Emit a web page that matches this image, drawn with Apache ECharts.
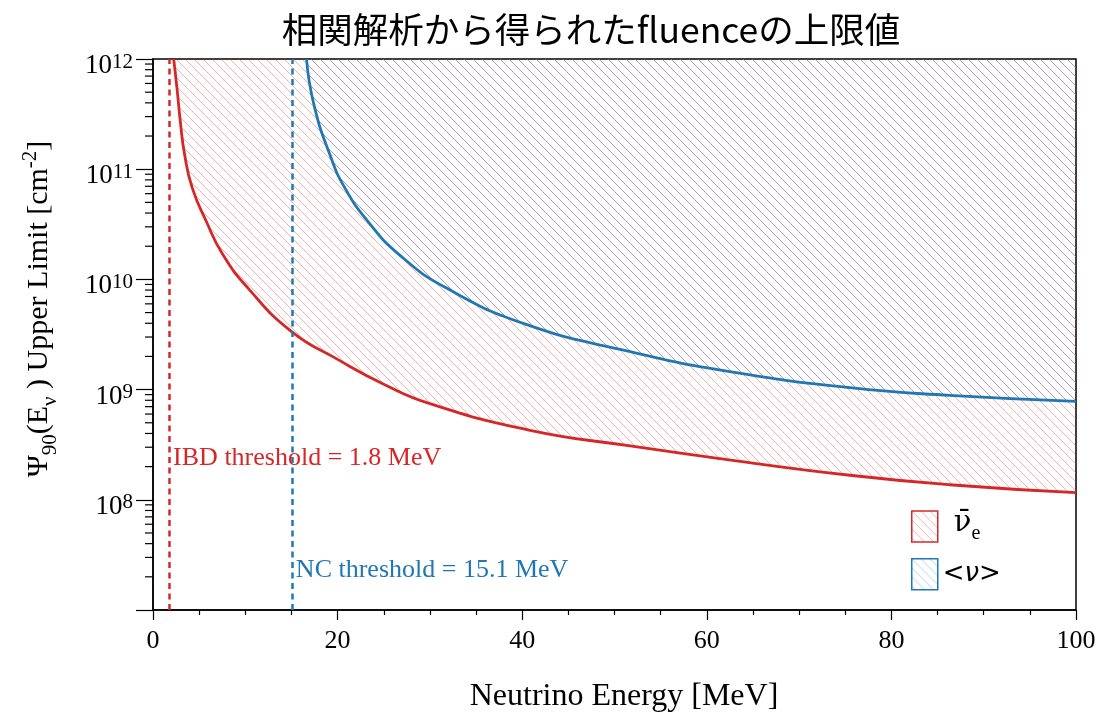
<!DOCTYPE html>
<html>
<head>
<meta charset="utf-8">
<script src="https://cdn.jsdelivr.net/npm/echarts@6/dist/echarts.min.js"></script>
<style>
  html, body { margin: 0; padding: 0; background: #ffffff; }
  #chart { width: 1099px; height: 712px; }
</style>
</head>
<body>
<div id="chart"></div>
<script>
// IBD (anti-electron neutrino) fluence upper limit vs neutrino energy [MeV]
const energyIBD = [2.24, 2.60, 2.96, 3.43, 4.26, 5.78, 7.58, 10.29, 14.98, 20.0, 25.0, 30.0, 40.85, 51.7, 62.0, 75.5, 86.3, 100];
const fluenceIBD = [1.0e12, 5.42e11, 2.70e11, 1.35e11, 6.73e10, 3.35e10, 1.67e10, 8.34e9, 3.37e9, 1.88e9, 1.12e9, 7.46e8, 4.27e8, 3.08e8, 2.33e8, 1.67e8, 1.37e8, 1.16e8];

// Neutral-current (all flavour average) fluence upper limit
const energyNC = [16.63, 17.44, 19.17, 20.8, 23.3, 26.7, 31.8, 40.5, 51.7, 62.0, 75.5, 86.3, 100];
const fluenceNC = [1.0e12, 3.83e11, 1.35e11, 6.73e10, 3.35e10, 1.67e10, 8.34e9, 3.89e9, 2.21e9, 1.48e9, 1.04e9, 8.87e8, 7.83e8];

// Reaction thresholds [MeV]
const thresholdIBD = 1.8;
const thresholdNC = 15.1;

// Axis ticks
const xTicks = [0, 20, 40, 60, 80, 100];
const yDecades = [7, 8, 9, 10, 11, 12];

const seriesNames = ['\u03bd\u0304e', '<\u03bd>'];
const titleText = '相関解析から得られたfluenceの上限値';

const RED = '#d62728';
const BLUE = '#1f77b4';
const SERIF = 'Liberation Serif';

// minor ticks at 2..9 within every decade of the log axis
const minorTickValues = [];
yDecades.slice(0, -1).forEach(function (d) {
  for (let k = 2; k <= 9; k++) minorTickValues.push(k * Math.pow(10, d));
});

function zip(xs, ys) { return xs.map(function (x, i) { return [x, ys[i]]; }); }

// diagonal hatch pattern ("\\" direction)
function hatch(color) {
  const s = 9;
  const c = document.createElement('canvas');
  c.width = s; c.height = s;
  const g = c.getContext('2d');
  g.strokeStyle = color;
  g.lineWidth = 1;
  g.beginPath();
  for (let k = -1; k <= 1; k++) { g.moveTo(k * s, 0); g.lineTo(k * s + s, s); }
  g.stroke();
  return { image: c, repeat: 'repeat' };
}
const hatchRed = hatch('rgba(230,70,70,0.42)');
const hatchBlue = hatch('rgba(125,132,168,0.5)');
const hatchLegendBlue = hatch('rgba(90,150,205,0.45)');

const chart = echarts.init(document.getElementById('chart'), null, { renderer: 'canvas' });

const tickRich = {
  b: { fontFamily: SERIF, fontSize: 27, color: '#000', verticalAlign: 'bottom' },
  s: { fontFamily: SERIF, fontSize: 21, color: '#000', verticalAlign: 'bottom', padding: [0, 0, 7, 0] }
};

const option = {
  backgroundColor: '#ffffff',
  animation: false,
  grid: {
    left: 153, right: 23, top: 59, bottom: 102,
    outerBoundsMode: 'none',
    containLabel: false,
    show: true, borderColor: '#000', borderWidth: 1.5, backgroundColor: 'transparent'
  },
  legend: {
    orient: 'vertical',
    left: 911, top: 509,
    padding: 0,
    itemWidth: 26, itemHeight: 31, itemGap: 14,
    selectedMode: false,
    data: [
      { name: seriesNames[0], icon: 'rect', itemStyle: { color: hatchRed, borderColor: RED, borderWidth: 1.5 } },
      { name: seriesNames[1], icon: 'rect', itemStyle: { color: hatchLegendBlue, borderColor: BLUE, borderWidth: 1.5 } }
    ],
    formatter: function (name) {
      return name === seriesNames[0] ? '{nu|\u03bd\u0304}{sub|e}' : '{br|<}{nui|\u03bd}{br|>}';
    },
    textStyle: {
      color: '#000',
      rich: {
        nu: { fontFamily: 'DejaVu Serif', fontSize: 29, color: '#000', verticalAlign: 'bottom', padding: [0, 0, 6, 11] },
        sub: { fontFamily: SERIF, fontSize: 20, color: '#000', verticalAlign: 'bottom' },
        br: { fontFamily: 'DejaVu Sans', fontSize: 26, color: '#000', verticalAlign: 'bottom' },
        nui: { fontFamily: 'DejaVu Sans', fontStyle: 'italic', fontSize: 26, color: '#000', verticalAlign: 'bottom' }
      }
    }
  },
  xAxis: {
    type: 'value',
    min: xTicks[0], max: xTicks[xTicks.length - 1], interval: xTicks[1] - xTicks[0],
    axisLine: { show: true, lineStyle: { color: '#000', width: 1.5 } },
    axisTick: { show: true, inside: false, length: 10, lineStyle: { color: '#000', width: 1.2 } },
    minorTick: { show: true, splitNumber: 4, length: 5, lineStyle: { color: '#000', width: 1.2 } },
    axisLabel: { color: '#000', fontFamily: SERIF, fontSize: 26, margin: 18 },
    splitLine: { show: false },
    name: 'Neutrino Energy [MeV]',
    nameLocation: 'middle',
    nameGap: 71,
    nameTextStyle: { color: '#000', fontFamily: SERIF, fontSize: 32, padding: [0, 0, 0, 19] }
  },
  yAxis: {
    type: 'log', logBase: 10,
    min: Math.pow(10, yDecades[0]), max: Math.pow(10, yDecades[yDecades.length - 1]),
    axisLine: { show: true, lineStyle: { color: '#000', width: 1.5 } },
    axisTick: { show: true, inside: false, length: 17, lineStyle: { color: '#000', width: 1.2 } },
    axisLabel: {
      margin: 20,
      padding: [13, 0, 0, 0],
      formatter: function (v) {
        const e = Math.round(Math.log10(v));
        if (e === yDecades[0]) return '';
        return '{b|10}{s|' + e + '}';
      },
      rich: tickRich
    },
    splitLine: { show: false }
  },
  graphic: [
    {
      type: 'text',
      x: 591, y: 30,
      style: {
        text: titleText,
        align: 'center', verticalAlign: 'middle',
        fontFamily: 'Noto Sans CJK JP', fontSize: 35.5, fill: '#000'
      }
    },
    {
      type: 'text',
      x: 40, y: 309,
      rotation: Math.PI / 2,
      style: {
        text: '{t|\u03a8}{s|90}{t|(E}{s|\u03bd}{t| ) Upper Limit [cm}{p|-2}{t|]}',
        align: 'center', verticalAlign: 'middle',
        rich: {
          t: { fontFamily: SERIF, fontSize: 30, fill: '#000', verticalAlign: 'bottom', padding: [0, 0, 6, 0] },
          s: { fontFamily: SERIF, fontSize: 21, fill: '#000', verticalAlign: 'bottom' },
          p: { fontFamily: SERIF, fontSize: 21, fill: '#000', verticalAlign: 'bottom', padding: [0, 0, 20, 0] }
        }
      }
    }
  ],
  series: [
    {
      name: seriesNames[0],
      type: 'line',
      data: zip(energyIBD, fluenceIBD),
      smooth: 0.5,
      showSymbol: false,
      lineStyle: { color: RED, width: 2.8 },
      itemStyle: { color: RED },
      areaStyle: { color: hatchRed, origin: 'end', opacity: 1 },
      z: 3
    },
    {
      name: seriesNames[1],
      type: 'line',
      data: zip(energyNC, fluenceNC),
      smooth: 0.5,
      showSymbol: false,
      lineStyle: { color: BLUE, width: 2.8 },
      itemStyle: { color: BLUE },
      areaStyle: { color: hatchBlue, origin: 'end', opacity: 1 },
      z: 4
    },
    {
      name: 'thresholds',
      type: 'line',
      data: [],
      z: 5,
      markLine: {
        silent: true,
        symbol: 'none',
        label: { show: false },
        data: [
          { xAxis: thresholdIBD, lineStyle: { color: RED, type: [6, 4.5], width: 2.5 } },
          { xAxis: thresholdNC, lineStyle: { color: BLUE, type: [6, 4.5], width: 2.5 } }
        ]
      }
    },
    {
      name: 'threshold labels',
      type: 'scatter',
      symbolSize: 1,
      itemStyle: { color: 'rgba(0,0,0,0)', opacity: 1 },
      silent: true,
      z: 6,
      data: [
        { value: [thresholdIBD, 2.41e8], label: { color: RED, formatter: 'IBD threshold = ' + thresholdIBD + ' MeV' } },
        { value: [thresholdNC, 2.28e7], label: { color: BLUE, formatter: 'NC threshold = ' + thresholdNC + ' MeV' } }
      ],
      label: { show: true, position: 'right', distance: 3, opacity: 1, fontFamily: SERIF, fontSize: 26 }
    },
    {
      name: 'minor y ticks',
      type: 'custom',
      silent: true,
      clip: false,
      z: 6,
      data: minorTickValues.map(function (v) { return [xTicks[0], v]; }),
      renderItem: function (params, api) {
        const p = api.coord([api.value(0), api.value(1)]);
        return {
          type: 'line',
          shape: { x1: p[0] - 8, y1: p[1], x2: p[0], y2: p[1] },
          style: { stroke: '#000', lineWidth: 1.2 }
        };
      }
    }
  ]
};

chart.setOption(option);
</script>
</body>
</html>
